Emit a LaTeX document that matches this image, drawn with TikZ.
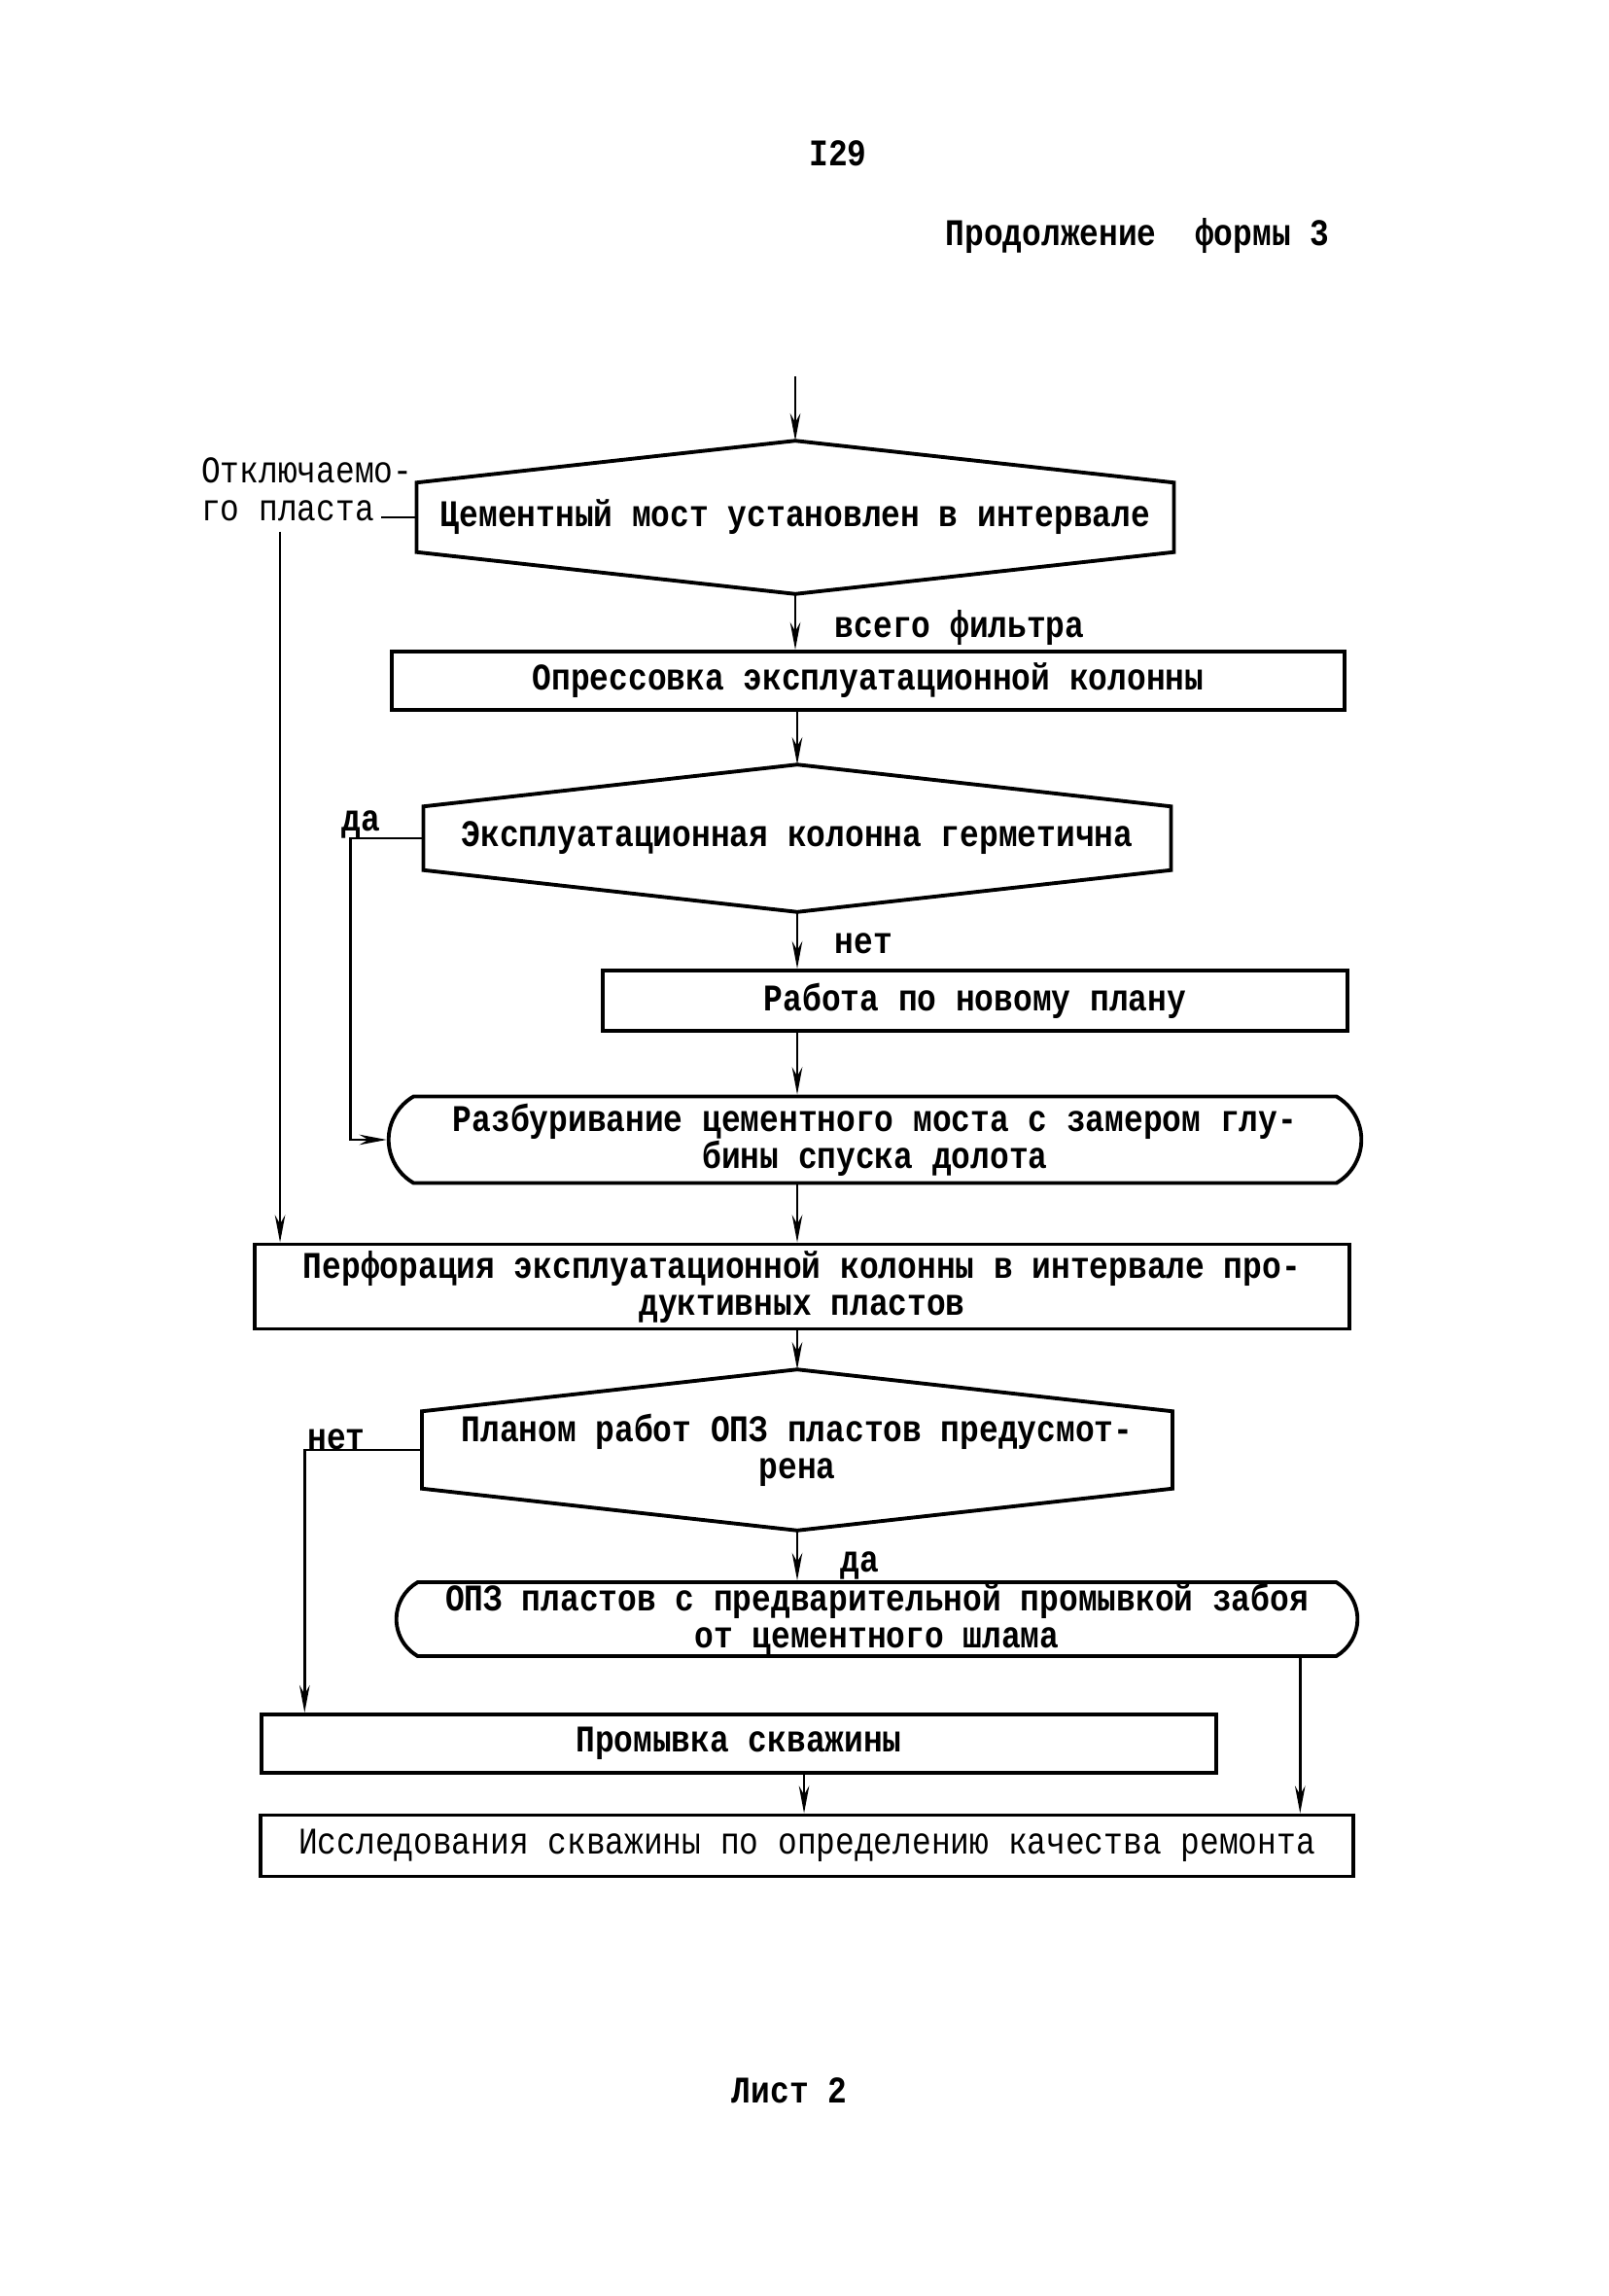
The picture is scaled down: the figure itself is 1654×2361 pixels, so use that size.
\documentclass[tikz,border=0pt]{standalone}
\usepackage{fontspec}
\setmainfont{Liberation Mono}[FakeStretch=0.85]
\usetikzlibrary{shapes.misc,arrows.meta}

\begin{document}
\begin{tikzpicture}[x=0.01cm,y=-0.01cm,
    font=\fontsize{11}{10.8}\selectfont\bfseries,
    >={Stealth[length=8pt,width=3pt]}, line width=0.7pt,
    box/.style={draw,line width=1.1pt,inner sep=0pt},
    hexa/.style={inner sep=0pt},
    lbl/.style={anchor=base west,inner sep=0pt,font=\fontsize{11}{10.8}\selectfont},
    term/.style={draw,line width=1.1pt,inner sep=0pt,rounded rectangle,
      rounded rectangle arc length=120}]
  \useasboundingbox (0,0) rectangle (1654,2361);

  \node (num) at (862,158) {I29};
  \node (title) at (1170,243) {Продолжение\ \ формы 3};
  \coordinate (start) at (818,387);

  \node [hexa,minimum width=7.76cm,minimum height=1.55cm] (cem) at (818,532)
    {Цементный мост установлен в интервале};
  \node [lbl] (otkl1) at (206,496) {Отключаемо-};
  \node [lbl] (otkl2) at (206,535) {го пласта};
  \node [anchor=west] (vsego) at (846,645) {всего фильтра};
  \node [box,minimum width=9.79cm,minimum height=0.6cm] (opr) at (893,700)
    {Опрессовка эксплуатационной колонны};
  \node [hexa,minimum width=7.66cm,minimum height=1.49cm] (herm) at (820,862)
    {Эксплуатационная колонна герметична};
  \node (da1) at (371,848) {да};
  \node [anchor=west] (net1) at (846,970) {нет};
  \node [box,minimum width=7.65cm,minimum height=0.62cm] (rab) at (1003,1029)
    {Работа по новому плану};
  \node [term,minimum width=10cm,minimum height=0.89cm,align=center] (razb) at (900,1172)
    {Разбуривание цементного моста с замером глу-\\бины спуска долота};
  \node [box,minimum width=11.26cm,minimum height=0.87cm,align=center] (perf) at (825,1323)
    {Перфорация эксплуатационной колонны в интервале про-\\дуктивных пластов};
  \node [hexa,minimum width=7.69cm,minimum height=1.63cm,align=center] (plan) at (820,1491)
    {Планом работ ОПЗ пластов предусмот-\\рена};
  \node (net2) at (346,1480) {нет};
  \node [anchor=west] (da2) at (852,1610) {да};
  \node [term,minimum width=9.88cm,minimum height=0.76cm,align=center] (opz) at (902,1665)
    {ОПЗ пластов с предварительной промывкой забоя\\от цементного шлама};
  \node [box,minimum width=9.81cm,minimum height=0.6cm] (prom) at (760,1793)
    {Промывка скважины};
  \node [box,minimum width=11.23cm,minimum height=0.63cm,
    font=\fontsize{11}{10.8}\selectfont] (issl) at (830,1898)
    {Исследования скважины по определению качества ремонта};
  \node (list) at (812,2150) {Лист 2};

  % decision outlines
  \foreach \n in {cem,herm,plan}
    \draw [line width=1.1pt] (\n.north) -- ([yshift=-0.43cm]\n.north east)
      -- ([yshift=0.43cm]\n.south east) -- (\n.south)
      -- ([yshift=0.43cm]\n.south west) -- ([yshift=-0.43cm]\n.north west) -- cycle;

  \draw [->] (start) -- (cem.north);
  \draw [->] (cem.south) -- (cem.south |- opr.north);
  \draw (cem.west) -- ([xshift=0.06cm]otkl2.east |- cem.west);
  \draw [->] ([xshift=0.82cm,yshift=-0.1cm]otkl2.south west)
    -- ([xshift=0.82cm]otkl2.south west |- perf.north);
  \draw [->] (opr.south -| herm.north) -- (herm.north);
  \draw [->] (herm.south) -- (herm.south |- rab.north);
  \draw [->] (herm.west) -- ++(-75,0) |- (razb.west);
  \draw [->] (rab.south -| herm.south) -- (razb.north -| herm.south);
  \draw [->] (razb.south -| herm.south) -- (perf.north -| herm.south);
  \draw [->] (perf.south -| plan.north) -- (plan.north);
  \draw [->] (plan.west) -| ([xshift=0.46cm]prom.north west);
  \draw [->] (plan.south) -- (plan.south |- opz.north);
  \draw [->] ([xshift=4.35cm]opz.south) -- ([xshift=4.35cm]opz.south |- issl.north);
  \draw [->] ([xshift=0.67cm]prom.south) -- ([xshift=0.67cm]prom.south |- issl.north);
\end{tikzpicture}
\end{document}
